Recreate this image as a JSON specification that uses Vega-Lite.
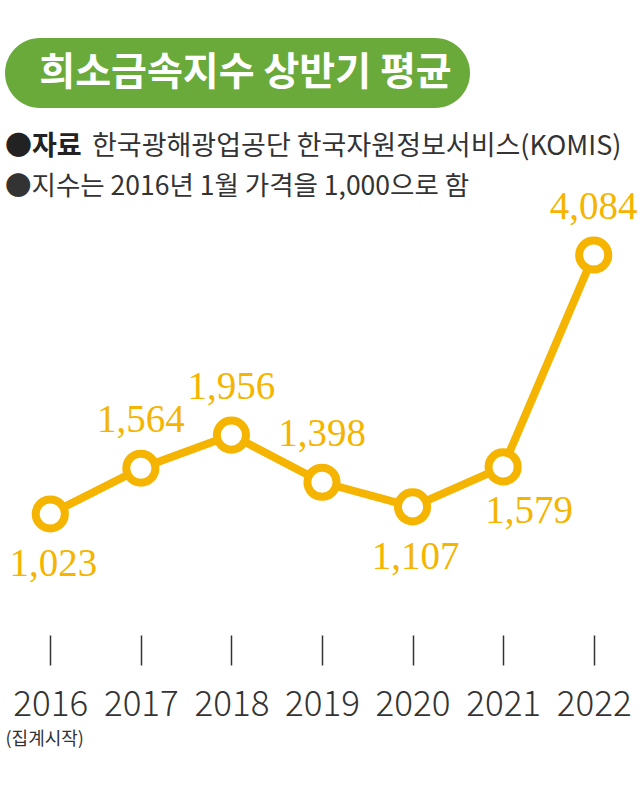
{
  "$schema": "https://vega.github.io/schema/vega-lite/v6.json",
  "background": "white",
  "padding": {"top": 38, "left": 5, "right": 0, "bottom": 0},
  "spacing": 0,
  "bounds": "flush",
  "config": {"view": {"stroke": null}, "font": "Noto Sans CJK KR"},
  "vconcat": [
    {
      "width": 465,
      "height": 70,
      "view": {"fill": "#6AAA3B", "stroke": null, "cornerRadius": 35},
      "data": {"values": [{"title": "희소금속지수 상반기 평균"}]},
      "mark": {"type": "text", "font": "Noto Sans CJK KR", "fontSize": 39, "fontWeight": "bold", "color": "white", "dx": 8, "baseline": "middle", "align": "center"},
      "encoding": {"text": {"field": "title", "type": "nominal"}}
    },
    {
      "width": 634,
      "height": 118,
      "data": {"values": [
        {"line": 1, "part": "head", "text": "●자료"},
        {"line": 1, "part": "body", "text": "한국광해광업공단 한국자원정보서비스(KOMIS)"},
        {"line": 2, "part": "body", "text": "●지수는 2016년 1월 가격을 1,000으로 함"}
      ]},
      "encoding": {
        "y": {"field": "line", "type": "ordinal", "scale": {"type": "point", "padding": 0.94}, "axis": null},
        "x": {"value": 0},
        "text": {"field": "text", "type": "nominal"}
      },
      "layer": [
        {
          "transform": [{"filter": "datum.part === 'head'"}],
          "mark": {"type": "text", "font": "Noto Sans CJK KR", "fontSize": 27, "fontWeight": "bold", "color": "#222222", "align": "left", "baseline": "middle"}
        },
        {
          "transform": [{"filter": "datum.part === 'body' && datum.line === 1"}],
          "mark": {"type": "text", "font": "Noto Sans CJK KR", "fontSize": 27, "color": "#333333", "align": "left", "baseline": "middle", "dx": 87}
        },
        {
          "transform": [{"filter": "datum.line === 2"}],
          "mark": {"type": "text", "font": "Noto Sans CJK KR", "fontSize": 26.5, "color": "#333333", "align": "left", "baseline": "middle"}
        }
      ]
    },
    {
      "width": 634,
      "height": 406,
      "data": {"values": [
        {"year": 2016, "index": 1023},
        {"year": 2017, "index": 1564},
        {"year": 2018, "index": 1956},
        {"year": 2019, "index": 1398},
        {"year": 2020, "index": 1107},
        {"year": 2021, "index": 1579},
        {"year": 2022, "index": 4084}
      ]},
      "encoding": {
        "x": {
          "field": "year", "type": "ordinal",
          "scale": {"type": "point", "padding": 0.5},
          "axis": {
            "domain": false, "grid": false, "ticks": true,
            "tickSize": 30, "tickColor": "#333333", "tickWidth": 1.5, "offset": 3,
            "labelFont": "Noto Sans CJK KR", "labelFontSize": 35, "labelFontWeight": 300, "labelColor": "#333333",
            "labelPadding": 22, "labelAngle": 0,
            "title": "(집계시작)", "titleFont": "Noto Sans CJK KR", "titleFontSize": 18,
            "titleFontWeight": "normal", "titleColor": "#333333", "titleAnchor": "start",
            "titleAlign": "left", "titlePadding": 8
          }
        },
        "y": {"field": "index", "type": "quantitative", "scale": {"domain": [-372, 4427], "nice": false, "zero": false}, "axis": null}
      },
      "layer": [
        {"mark": {"type": "line", "stroke": "#F5B400", "strokeWidth": 8, "strokeJoin": "round"}},
        {"mark": {"type": "point", "shape": "circle", "filled": true, "fill": "white", "stroke": "#F5B400", "strokeWidth": 8, "size": 850, "opacity": 1}},
        {
          "transform": [{"filter": {"field": "year", "oneOf": [2017, 2018, 2019, 2022]}}],
          "mark": {"type": "text", "font": "Liberation Serif", "fontSize": 39, "color": "#F5B400", "dy": -48, "baseline": "middle"},
          "encoding": {"text": {"field": "index", "type": "quantitative", "format": ","}}
        },
        {
          "transform": [{"filter": {"field": "year", "oneOf": [2016, 2020]}}],
          "mark": {"type": "text", "font": "Liberation Serif", "fontSize": 39, "color": "#F5B400", "dy": 50, "dx": 3, "baseline": "middle"},
          "encoding": {"text": {"field": "index", "type": "quantitative", "format": ","}}
        },
        {
          "transform": [{"filter": {"field": "year", "oneOf": [2021]}}],
          "mark": {"type": "text", "font": "Liberation Serif", "fontSize": 39, "color": "#F5B400", "dy": 44, "dx": 26, "baseline": "middle"},
          "encoding": {"text": {"field": "index", "type": "quantitative", "format": ","}}
        }
      ]
    }
  ]
}
